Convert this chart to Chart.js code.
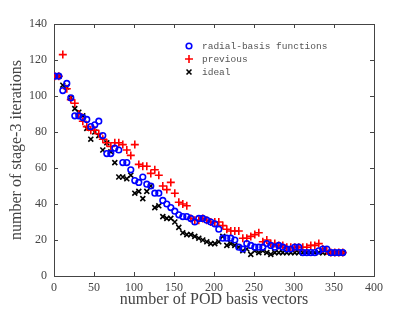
<!DOCTYPE html>
<html>
<head>
<meta charset="utf-8">
<script src="https://cdn.jsdelivr.net/npm/chart.js@4.4.1/dist/chart.umd.min.js"></script>
<style>
  html, body { margin: 0; padding: 0; background: #fff; }
</style>
</head>
<body>
<canvas id="chart" width="415" height="312"></canvas>
<script>
// number of POD basis vectors (x)
const basisCounts = [1, 6, 11, 16, 21, 26, 31, 36, 41, 46, 51, 56, 61, 66, 71, 76, 81, 86, 91, 96,
  101, 106, 111, 116, 121, 126, 131, 136, 141, 146, 151, 156, 161, 166, 171, 176, 181, 186, 191, 196,
  201, 206, 211, 216, 221, 226, 231, 236, 241, 246, 251, 256, 261, 266, 271, 276, 281, 286, 291, 296,
  301, 306, 311, 316, 321, 326, 331, 336, 341, 346, 351, 356, 361];

const rbfIters = [111, 111, 103, 107, 99, 89, 89, 88, 87, 83,
  84, 86, 78, 68, 68, 71, 70, 63, 63, 59,
  53, 52, 55, 51, 50, 46, 46, 42, 40, 38,
  36, 34, 33, 33, 32, 30, 32, 32, 31, 30,
  29, 26, 21, 21, 21, 20, 16, 15, 18, 17,
  16, 16, 16, 18, 17, 16, 17, 16, 15, 15,
  16, 16, 13, 13, 13, 13, 14, 15, 15, 13,
  13, 13, 13];

const previousIters = [111, 111, 123, 104, 98, 96, 90, 86, 83, 81,
  81, 79, 76, 74, 72, 74, 74, 73, 70, 67,
  73, 62, 61, 61, 57, 59, 56, 50, 48, 52,
  46, 41, 40, 39, 32, 31, 31, 32, 31, 30,
  30, 30, 28, 26, 25, 25, 25, 21, 21, 22,
  23, 24, 19, 20, 18, 18, 17, 17, 16, 16,
  16, 16, 16, 16, 17, 17, 18, 15, 14, 13,
  13, 13, 13];

const idealIters = [111, 111, 106, 105, 99, 93, 91, 89, 82, 76,
  80, 78, 70, 74, 69, 63, 55, 55, 54, 56,
  46, 47, 43, 47, 50, 38, 39, 33, 32, 32,
  30, 27, 24, 23, 23, 22, 21, 20, 19, 18,
  18, 19, 22, 17, 18, 17, 16, 14, 15, 12,
  14, 13, 14, 13, 12, 13, 13, 13, 13, 13,
  13, 13, 13, 13, 13, 13, 13, 13, 13, 13,
  13, 13, 13];

const seriesLabels = ['radial-basis functions', 'previous', 'ideal'];
const seriesColors = ['#0000ff', '#ff0000', '#000000'];

const axisColor = '#444';
const textColor = '#444';
const serif = "'Liberation Serif', 'DejaVu Serif', serif";

function toPoints(ys) {
  return basisCounts.map((x, i) => ({ x: x, y: ys[i] }));
}

// box around plot + tick marks pointing inward on all four sides
const frameTicks = {
  id: 'frameTicks',
  beforeDatasetsDraw(chart) {
    const { ctx, chartArea: a, scales } = chart;
    const len = 4;
    ctx.save();
    ctx.strokeStyle = axisColor;
    ctx.lineWidth = 1;
    ctx.beginPath();
    scales.x.ticks.forEach(t => {
      const px = Math.round(scales.x.getPixelForValue(t.value)) + 0.5;
      ctx.moveTo(px, a.bottom); ctx.lineTo(px, a.bottom - len);
      ctx.moveTo(px, a.top); ctx.lineTo(px, a.top + len);
    });
    scales.y.ticks.forEach(t => {
      const py = Math.round(scales.y.getPixelForValue(t.value)) + 0.5;
      ctx.moveTo(a.left, py); ctx.lineTo(a.left + len, py);
      ctx.moveTo(a.right, py); ctx.lineTo(a.right - len, py);
    });
    ctx.stroke();
    ctx.strokeRect(Math.round(a.left) + 0.5, Math.round(a.top) + 0.5,
      Math.round(a.right - a.left), Math.round(a.bottom - a.top));
    ctx.restore();
  }
};

// legend drawn inside the plot, monospace like the original
const innerLegend = {
  id: 'innerLegend',
  afterDraw(chart) {
    const { ctx } = chart;
    const mx = 189, tx = 202, y0 = 46, step = 13;
    ctx.save();
    chart.data.datasets.forEach((ds, i) => {
      const y = y0 + i * step;
      ctx.strokeStyle = ds.borderColor;
      ctx.lineWidth = ds.pointBorderWidth;
      ctx.beginPath();
      if (ds.pointStyle === 'circle') {
        ctx.arc(mx, y, ds.pointRadius, 0, Math.PI * 2);
      } else if (ds.pointStyle === 'cross') {
        const r = ds.pointRadius;
        ctx.moveTo(mx - r, y); ctx.lineTo(mx + r, y);
        ctx.moveTo(mx, y - r); ctx.lineTo(mx, y + r);
      } else {
        const r = ds.pointRadius * Math.SQRT1_2;
        ctx.moveTo(mx - r, y - r); ctx.lineTo(mx + r, y + r);
        ctx.moveTo(mx - r, y + r); ctx.lineTo(mx + r, y - r);
      }
      ctx.stroke();
      ctx.fillStyle = '#555';
      ctx.font = "9.5px 'Liberation Mono', 'DejaVu Sans Mono', monospace";
      ctx.textBaseline = 'middle';
      ctx.fillText(ds.label, tx, y + 0.5);
    });
    ctx.restore();
  }
};

new Chart(document.getElementById('chart'), {
  type: 'scatter',
  data: {
    datasets: [
      {
        label: seriesLabels[0],
        data: toPoints(rbfIters),
        pointStyle: 'circle',
        pointRadius: 2.8,
        pointBorderWidth: 1.6,
        borderColor: seriesColors[0],
        backgroundColor: 'rgba(0,0,0,0)'
      },
      {
        label: seriesLabels[1],
        data: toPoints(previousIters),
        pointStyle: 'cross',
        pointRadius: 4,
        pointBorderWidth: 1.6,
        borderColor: seriesColors[1],
        backgroundColor: seriesColors[1]
      },
      {
        label: seriesLabels[2],
        data: toPoints(idealIters),
        pointStyle: 'crossRot',
        pointRadius: 3.5,
        pointBorderWidth: 1.6,
        borderColor: seriesColors[2],
        backgroundColor: seriesColors[2]
      }
    ]
  },
  options: {
    responsive: false,
    animation: false,
    layout: { padding: { top: 24, right: 41, left: 0, bottom: 0 } },
    plugins: {
      legend: { display: false },
      tooltip: { enabled: false }
    },
    scales: {
      x: {
        type: 'linear',
        min: 0,
        max: 400,
        afterFit(scale) { scale.height = 36; },
        grid: { display: false, drawTicks: false },
        border: { display: false },
        ticks: {
          stepSize: 50,
          padding: 5,
          color: textColor,
          font: { family: serif, size: 12 }
        },
        title: {
          display: true,
          text: 'number of POD basis vectors',
          color: textColor,
          font: { family: serif, size: 16 },
          padding: { top: 0, bottom: 3 }
        }
      },
      y: {
        type: 'linear',
        min: 0,
        max: 140,
        afterFit(scale) { scale.width = 54; },
        grid: { display: false, drawTicks: false },
        border: { display: false },
        ticks: {
          stepSize: 20,
          padding: 7,
          color: textColor,
          font: { family: serif, size: 12 }
        },
        title: {
          display: true,
          text: 'number of stage-3 iterations',
          color: textColor,
          font: { family: serif, size: 16 },
          padding: { top: 7, bottom: 0 }
        }
      }
    }
  },
  plugins: [frameTicks, innerLegend]
});
</script>
</body>
</html>
